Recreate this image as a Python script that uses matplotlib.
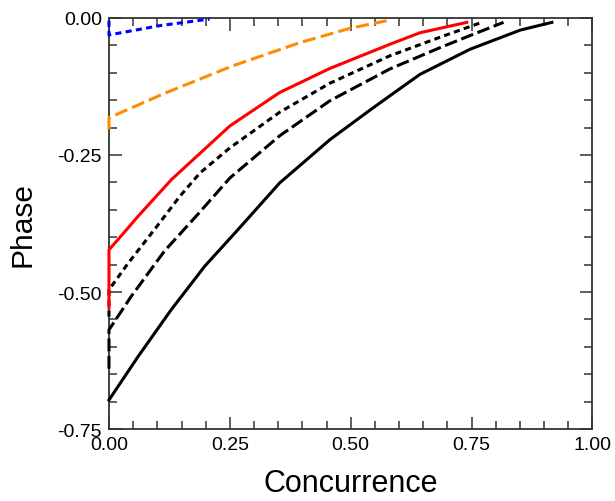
import matplotlib
matplotlib.use('Agg')
import matplotlib.pyplot as plt
from matplotlib.ticker import MultipleLocator, FormatStrFormatter

plt.rcParams['font.family'] = ['Liberation Sans', 'DejaVu Sans']
plt.rcParams['axes.unicode_minus'] = False

# black solid
c1 = [0.0, 0.060, 0.129, 0.198, 0.267, 0.353, 0.457, 0.540, 0.581, 0.643, 0.747, 0.851, 0.916]
p1 = [-0.697, -0.618, -0.532, -0.453, -0.386, -0.301, -0.222, -0.168, -0.142, -0.103, -0.057, -0.022, -0.008]
# black long dashed
c2 = [0.0, 0.0, 0.046, 0.115, 0.184, 0.250, 0.353, 0.457, 0.581, 0.685, 0.747, 0.816]
p2 = [-0.640, -0.569, -0.508, -0.425, -0.358, -0.292, -0.215, -0.151, -0.093, -0.054, -0.032, -0.008]
# black dotted
c3 = [0.0, 0.0, 0.040, 0.095, 0.146, 0.188, 0.250, 0.353, 0.457, 0.581, 0.685, 0.771]
p3 = [-0.545, -0.496, -0.447, -0.385, -0.326, -0.283, -0.237, -0.172, -0.119, -0.069, -0.035, -0.008]
# red
c4 = [0.0, 0.0, 0.019, 0.060, 0.129, 0.250, 0.353, 0.457, 0.581, 0.643, 0.740]
p4 = [-0.529, -0.423, -0.404, -0.362, -0.295, -0.197, -0.136, -0.092, -0.048, -0.027, -0.008]
# orange
c5 = [0.0, 0.0, 0.119, 0.257, 0.395, 0.498, 0.574]
p5 = [-0.203, -0.182, -0.136, -0.087, -0.045, -0.019, -0.005]
# blue
c6 = [0.0, 0.0, 0.105, 0.208]
p6 = [-0.005, -0.031, -0.014, -0.002]

fig = plt.figure(figsize=(6.15, 5.02), dpi=100)
ax = fig.add_axes([0.1772, 0.1434, 0.7862, 0.8188])

lw = 2.2
kw = dict(lw=lw, clip_on=False, zorder=3, solid_joinstyle='round')
ax.plot(c1, p1, color='black', linestyle='-', **kw)
ax.plot(c2, p2, color='black', linestyle=(0, (4.2, 1.5)), **kw)
ax.plot(c3, p3, color='black', linestyle=(0, (2.0, 1.4)), **kw)
ax.plot(c4, p4, color='red', linestyle='-', **kw)
ax.plot(c5, p5, color='#ff8c00', linestyle=(0, (4.3, 1.7)), **kw)
ax.plot(c6, p6, color='blue', linestyle=(0, (2.0, 1.4)), **kw)

ax.set_xlim(0, 1)
ax.set_ylim(-0.75, 0)
ax.xaxis.set_major_locator(MultipleLocator(0.25))
ax.xaxis.set_minor_locator(MultipleLocator(0.05))
ax.yaxis.set_major_locator(MultipleLocator(0.25))
ax.yaxis.set_minor_locator(MultipleLocator(0.05))
ax.xaxis.set_major_formatter(FormatStrFormatter('%.2f'))
ax.yaxis.set_major_formatter(FormatStrFormatter('%.2f'))

ax.tick_params(which='both', direction='in', top=True, right=True, labelsize=14, color='#333333', width=1.1)
ax.tick_params(which='major', length=9, pad=5)
ax.tick_params(which='minor', length=6)
for s in ax.spines.values():
    s.set_linewidth(1.3)
    s.set_color('#333333')

ax.set_xlabel('Concurrence', fontsize=22, labelpad=11)
ax.set_ylabel('Phase', fontsize=21.5, labelpad=15)

fig.savefig('out.png', dpi=100)
